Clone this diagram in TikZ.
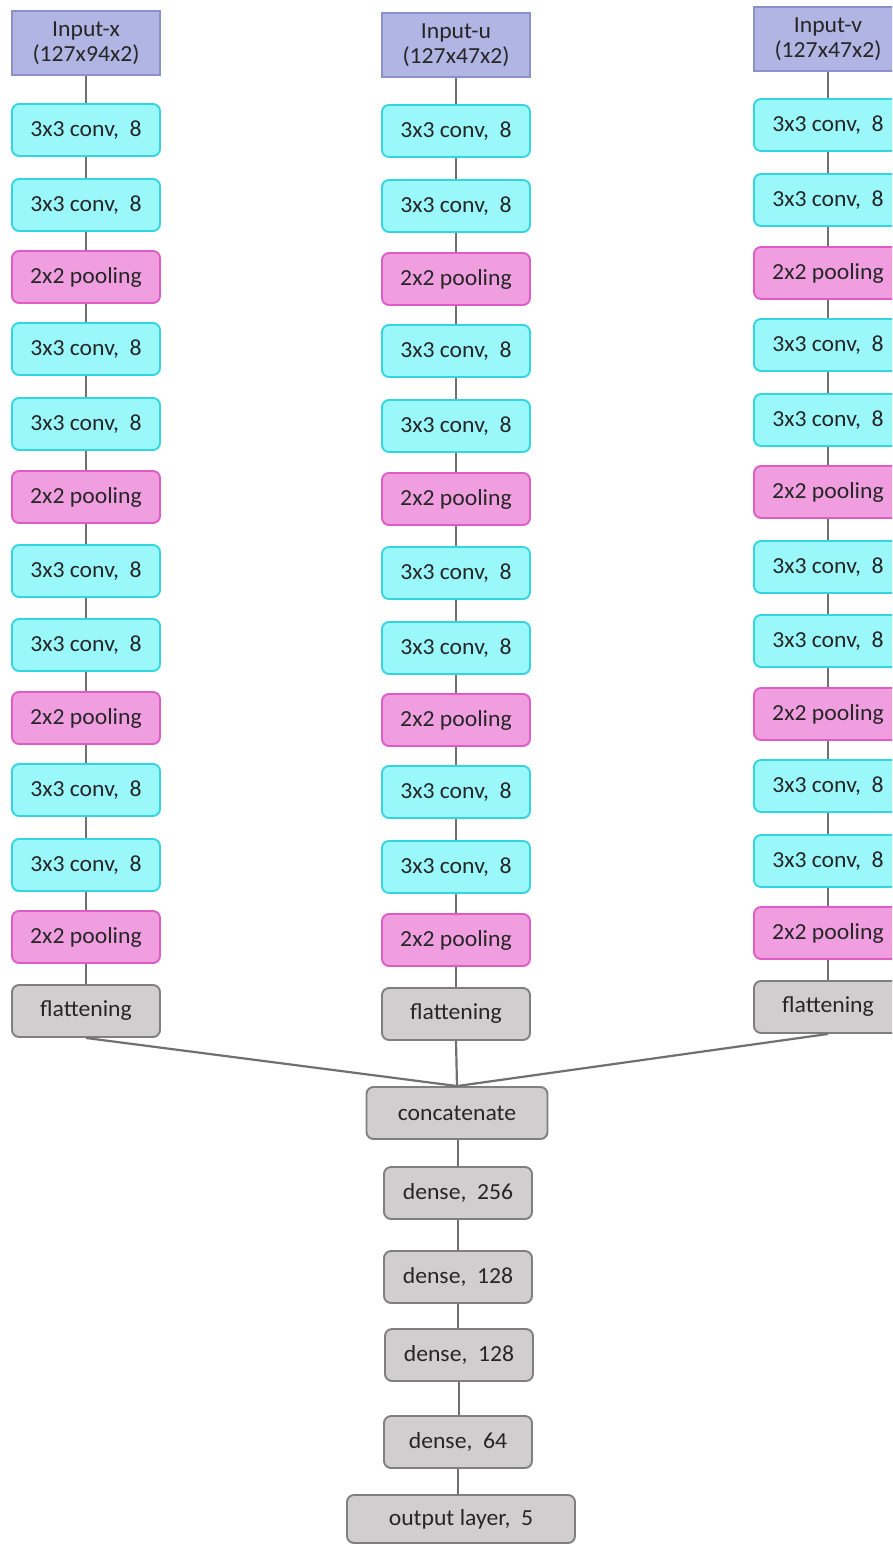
\documentclass[tikz,border=0pt]{standalone}
\usepackage{fontspec}
\setmainfont{Carlito}[FakeStretch=1.03]
\definecolor{inFill}{HTML}{B0B5E3}
\definecolor{inLine}{HTML}{8C90C8}
\definecolor{convFill}{HTML}{9AF8FB}
\definecolor{convLine}{HTML}{33D5E0}
\definecolor{poolFill}{HTML}{F09EE0}
\definecolor{poolLine}{HTML}{DD5CC6}
\definecolor{greyFill}{HTML}{D0CECE}
\definecolor{greyLine}{HTML}{7F7F7F}
\definecolor{linkLine}{HTML}{707070}
\definecolor{txt}{HTML}{262626}
\begin{document}
\begin{tikzpicture}[x=1pt,y=-1pt,
  box/.style={draw, line width=1.9pt, rounded corners=7pt, minimum width=148pt,
    minimum height=52pt, inner sep=0pt, text=txt, font=\fontsize{23}{25}\selectfont},
  inbox/.style={box, rounded corners=0pt, minimum height=64pt, fill=inFill,
    draw=inLine, align=center, font=\fontsize{23}{25}\selectfont},
  convbox/.style={box, fill=convFill, draw=convLine},
  poolbox/.style={box, fill=poolFill, draw=poolLine},
  greybox/.style={box, fill=greyFill, draw=greyLine},
  link/.style={draw=linkLine, line width=2.2pt}]
\useasboundingbox (0,0) rectangle (892,1544);
\clip (0,0) rectangle (892,1544);

% three parallel convolution branches: column name / x centre / input label / row centres
\foreach \col/\cx/\lbl/\ya/\yb/\yc/\yd/\ye/\yf/\yg/\yh/\yi/\yj/\yk/\yl/\ym/\yn in {
    x/86/{Input-x\\(127x94x2)}/43/130/205/277/349/424/497/571/645/718/790/865/937/1011,
    u/456/{Input-u\\(127x47x2)}/45/131/206/279/351/426/499/573/648/720/792/867/940/1014,
    v/828/{Input-v\\(127x47x2)}/39/125/200/273/345/420/492/567/641/714/786/861/933/1007} {
  \node[inbox]   (\col0)  at (\cx,\ya) {\lbl};
  \node[convbox] (\col1)  at (\cx,\yb) {3x3 conv,\ \ 8};
  \node[convbox] (\col2)  at (\cx,\yc) {3x3 conv,\ \ 8};
  \node[poolbox] (\col3)  at (\cx,\yd) {2x2 pooling};
  \node[convbox] (\col4)  at (\cx,\ye) {3x3 conv,\ \ 8};
  \node[convbox] (\col5)  at (\cx,\yf) {3x3 conv,\ \ 8};
  \node[poolbox] (\col6)  at (\cx,\yg) {2x2 pooling};
  \node[convbox] (\col7)  at (\cx,\yh) {3x3 conv,\ \ 8};
  \node[convbox] (\col8)  at (\cx,\yi) {3x3 conv,\ \ 8};
  \node[poolbox] (\col9)  at (\cx,\yj) {2x2 pooling};
  \node[convbox] (\col10) at (\cx,\yk) {3x3 conv,\ \ 8};
  \node[convbox] (\col11) at (\cx,\yl) {3x3 conv,\ \ 8};
  \node[poolbox] (\col12) at (\cx,\ym) {2x2 pooling};
  \node[greybox] (\col13) at (\cx,\yn) {flattening};
  \foreach \i [evaluate=\i as \j using int(\i+1)] in {0,...,12}
    \draw[link] (\col\i.south) -- (\col\j.north);
}

% merged dense head
\node[greybox, minimum width=181pt] (cat) at (457,1113) {concatenate};
\node[greybox] (d1) at (458,1193) {dense,\ \ 256};
\node[greybox] (d2) at (458,1277) {dense,\ \ 128};
\node[greybox] (d3) at (459,1355) {dense,\ \ 128};
\node[greybox] (d4) at (458,1442) {dense,\ \ 64};
\node[greybox, minimum width=228pt, minimum height=48pt] (out) at (461,1519) {output layer,\ \ 5};

\draw[link] (x13.south) -- (cat.north);
\draw[link] (u13.south) -- (cat.north);
\draw[link] (v13.south) -- (cat.north);
\draw[link] (d1.north) -- (d1.north |- cat.south);
\draw[link] (d1.south) -- (d1.south |- d2.north);
\draw[link] (d2.south) -- (d2.south |- d3.north);
\draw[link] (d3.south) -- (d3.south |- d4.north);
\draw[link] (d4.south) -- (d4.south |- out.north);
\end{tikzpicture}
\end{document}
